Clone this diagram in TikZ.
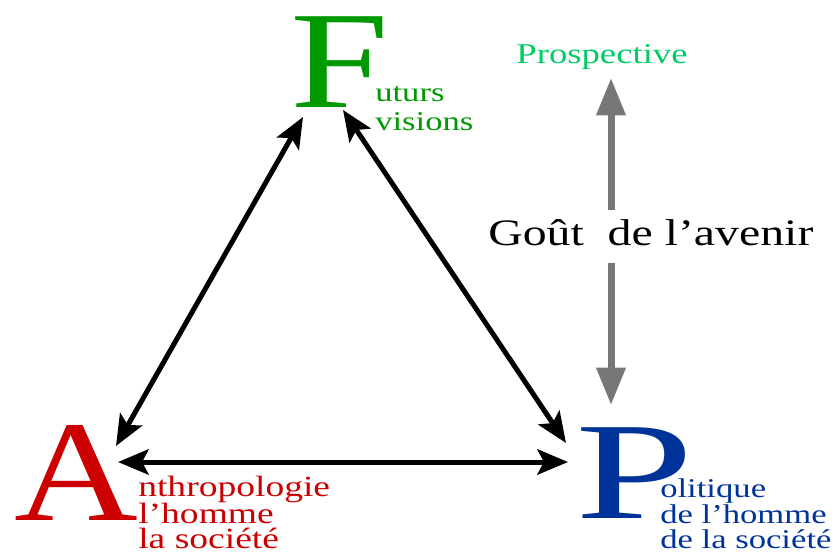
\documentclass[tikz,border=0pt]{standalone}
\usepackage{fontspec}
\setmainfont[FakeStretch=1.28]{Liberation Serif}
\usetikzlibrary{arrows.meta}
\definecolor{fgreen}{HTML}{009900}
\definecolor{ared}{HTML}{CC0000}
\definecolor{pblue}{HTML}{003399}
\definecolor{pgreen}{HTML}{00CC66}
\definecolor{agray}{HTML}{777777}
\begin{document}
\begin{tikzpicture}
[x=0.75pt,y=-0.75pt,
 bigletter/.style={inner sep=0pt,anchor=base west,font=\fontsize{104}{104}\selectfont},
 small/.style={inner sep=0pt,anchor=base west,font=\fontsize{21}{21}\selectfont},
 tri/.style={line width=3.75pt,{Stealth[length=23pt,width=19pt,inset=5pt]}-{Stealth[length=23pt,width=19pt,inset=5pt]}},
 future/.style={line width=5.25pt,draw=agray,-{Triangle[length=28pt,width=21pt,color=agray]}},]
\useasboundingbox (0,0) rectangle (835,553);

% big letters
\node (F) at (290,107)[bigletter,text=fgreen]{F};
\node (A) at (14,520)[bigletter,text=ared,xscale=0.93,font=\fontsize{108}{108}\selectfont]{A};
\node (P) at (575,518)[bigletter,text=pblue,xscale=1.2]{P};

% small texts
\node (F1) at (375,101)[small,text=fgreen,font=\fontsize{20.3}{20}\selectfont]{uturs};
\node (F2) at (375,130)[small,text=fgreen,font=\fontsize{20.3}{20}\selectfont]{visions};
\node (A1) at (138,496)[small,text=ared,font=\fontsize{22}{22}\selectfont]{nthropologie};
\node (A2) at (138,523)[small,text=ared,font=\fontsize{22}{22}\selectfont]{l’homme};
\node (A3) at (138,548)[small,text=ared,font=\fontsize{22}{22}\selectfont]{la société};
\node (P1) at (660,497)[small,text=pblue,font=\fontsize{20.3}{20}\selectfont]{olitique};
\node (P2) at (660,523)[small,text=pblue,font=\fontsize{20.3}{20}\selectfont]{de l’homme};
\node (P3) at (660,548)[small,text=pblue,font=\fontsize{20.3}{20}\selectfont]{de la société};
\node (Pr) at (602,63)[small,anchor=base,text=pgreen,font=\fontsize{21.5}{21}\selectfont]{Prospective};
\node (G) at (488,245)[inner sep=0pt,anchor=base west,font=\fontsize{28}{28}\selectfont]{Goût\ \ de l’avenir};

% arrow ends
\coordinate (FL) at (303,117);
\coordinate (FR) at (343,110);
\coordinate (AT) at (116,446);
\coordinate (AR) at (118,462);
\coordinate (PT) at (566,443);
\coordinate (PL) at (568,462);
\coordinate (up) at (611,210);
\coordinate (upend) at (611,78);
\coordinate (dn) at (611,263);
\coordinate (dnend) at (611,405);

\draw [tri] (FL)--(AT);
\draw [tri] (FR)--(PT);
\draw [tri] (AR)--(PL);
\draw [future] (up)--(upend);
\draw [future] (dn)--(dnend);

\end{tikzpicture}
\end{document}
